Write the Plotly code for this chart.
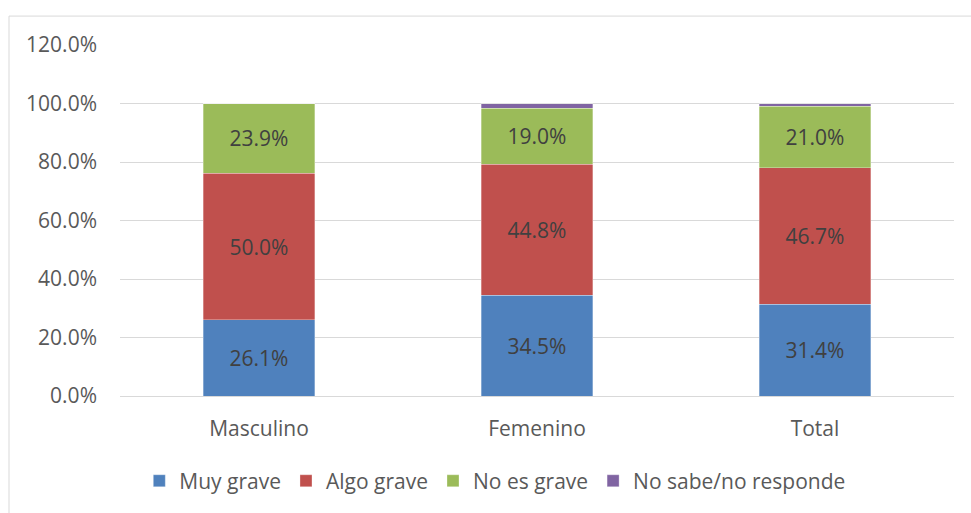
import plotly.graph_objects as go

categories = ["Masculino", "Femenino", "Total"]
muy_grave = [26.1, 34.5, 31.4]
algo_grave = [50.0, 44.8, 46.7]
no_es_grave = [23.9, 19.0, 21.0]
no_sabe = [0.0, 1.7, 0.9]
y_ticks = [0, 20, 40, 60, 80, 100, 120]

series = [
    ("Muy grave", muy_grave, "#4f81bd", True),
    ("Algo grave", algo_grave, "#c0504d", True),
    ("No es grave", no_es_grave, "#9bbb59", True),
    ("No sabe/no responde", no_sabe, "#8064a2", False),
]

FONT = "Open Sans, Noto Sans, sans-serif"
FS = 21

fig = go.Figure()
for name, vals, color, show_text in series:
    fig.add_trace(go.Bar(
        name=name, x=categories, y=vals,
        marker=dict(color=color, line=dict(color="rgba(255,255,255,0.6)", width=0.5)),
        texttemplate="%{y:.1f}%" if show_text else None,
        textposition="inside" if show_text else "none",
        insidetextanchor="middle",
        textfont=dict(family=FONT, size=FS, color="#404040"),
        hoverinfo="skip",
    ))

fig.update_layout(
    barmode="stack",
    bargap=0.6,
    width=971, height=513,
    margin=dict(l=120, r=17, t=45, b=116),
    paper_bgcolor="white", plot_bgcolor="white",
    font=dict(family=FONT, size=FS, color="#595959"),
    showlegend=True,
    legend=dict(orientation="h", x=0.45, xanchor="center", y=-0.239, yanchor="middle",
                font=dict(family=FONT, size=FS, color="#595959"), traceorder="normal",
                itemwidth=30),
    uniformtext=dict(mode=False),
    shapes=[dict(type="rect", xref="paper", yref="paper",
                 x0=(9 - 120) / 834, x1=(990 - 120) / 834,
                 y0=(397 - 540) / 352, y1=(397 - 16) / 352,
                 line=dict(color="#d9d9d9", width=1), fillcolor="rgba(0,0,0,0)",
                 layer="below")],
)
fig.update_yaxes(range=[0, 120], tickvals=y_ticks,
                 ticktext=[f"{v:.1f}%" for v in y_ticks],
                 showgrid=True, gridcolor="#d9d9d9", gridwidth=1,
                 zeroline=False, showline=False, ticks="", ticklen=0,
                 ticklabelstandoff=22,
                 tickfont=dict(family=FONT, size=FS, color="#595959"))
fig.update_xaxes(showgrid=False, showline=True, linecolor="#d9d9d9", linewidth=1,
                 ticks="", ticklabelstandoff=14,
                 tickfont=dict(family=FONT, size=FS, color="#595959"))

fig.write_html("out.html", config={"displayModeBar": False},
               post_script="document.body.style.margin='0';document.body.style.overflow='hidden';")
